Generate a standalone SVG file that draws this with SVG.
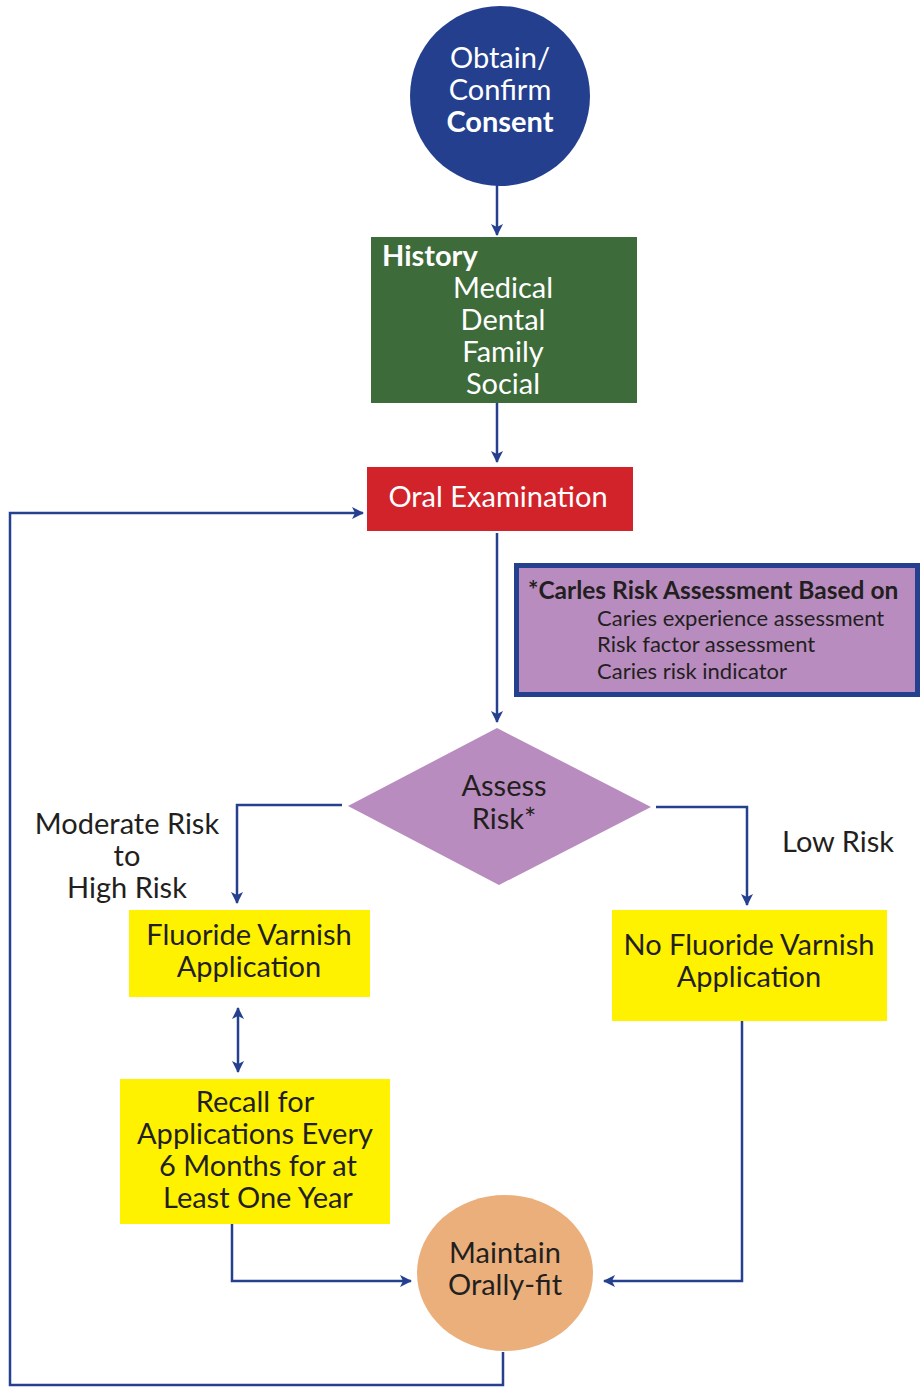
<svg xmlns="http://www.w3.org/2000/svg" width="924" height="1387" viewBox="0 0 924 1387">
<style>
text{font-family:"Lato","Open Sans","Liberation Sans",sans-serif;}
.w{fill:#ffffff;font-size:29px;text-anchor:middle;}
.d{fill:#231f20;font-size:29px;text-anchor:middle;}
.c{fill:none;stroke:#25408f;stroke-width:2.5;}
</style>
<defs>
<marker id="a" viewBox="0 0 12 12" refX="11" refY="6" markerWidth="12" markerHeight="12" orient="auto-start-reverse" markerUnits="userSpaceOnUse">
<path d="M0,0 L12,6 L0,12 L3,6 z" fill="#25408f"/>
</marker>
</defs>
<rect width="924" height="1387" fill="#ffffff"/>
<g id="connectors">
<path class="c" d="M497,182 V235" marker-end="url(#a)"/>
<path class="c" d="M497,403 V462" marker-end="url(#a)"/>
<path class="c" d="M497,533 V722" marker-end="url(#a)"/>
<path class="c" d="M342,805 H237 V903" marker-end="url(#a)"/>
<path class="c" d="M656,807 H747 V905" marker-end="url(#a)"/>
<path class="c" d="M238,1008 V1072" marker-start="url(#a)" marker-end="url(#a)"/>
<path class="c" d="M232,1224 V1281 H411" marker-end="url(#a)"/>
<path class="c" d="M742,1021 V1281 H604" marker-end="url(#a)"/>
<path class="c" d="M503,1352 V1385 H10 V513 H363" marker-end="url(#a)"/>
</g>
<g id="consent">
<circle cx="500" cy="96" r="90" fill="#253f8f"/>
<text class="w" x="500" y="68">Obtain/</text>
<text class="w" x="500" y="100">Confirm</text>
<text class="w" x="500" y="132" font-weight="bold">Consent</text>
</g>
<g id="history">
<rect x="371" y="237" width="266" height="166" fill="#3e6b3a"/>
<text class="w" x="382" y="266" style="text-anchor:start" font-weight="bold">History</text>
<text class="w" x="503" y="298">Medical</text>
<text class="w" x="503" y="330">Dental</text>
<text class="w" x="503" y="362">Family</text>
<text class="w" x="503" y="394">Social</text>
</g>
<g id="oral-exam">
<rect x="367" y="467" width="266" height="64" fill="#d2232a"/>
<text class="w" x="498" y="507">Oral Examination</text>
</g>
<g id="caries-note">
<rect x="516.5" y="565.5" width="401" height="129" fill="#b98cc0" stroke="#25408f" stroke-width="5"/>
<text x="528" y="599" fill="#231f20" font-size="24.5" font-weight="bold">*Carles Risk Assessment Based on</text>
<text x="597" y="626" fill="#231f20" font-size="22">Caries experience assessment</text>
<text x="597" y="652" fill="#231f20" font-size="22">Risk factor assessment</text>
<text x="597" y="679" fill="#231f20" font-size="22">Caries risk indicator</text>
</g>
<g id="assess-risk">
<polygon points="497,728 651,807 499,885 348,806" fill="#b98cbf"/>
<text class="d" x="504" y="796">Assess</text>
<text class="d" x="504" y="829">Risk*</text>
</g>
<g id="label-moderate">
<text class="d" x="127" y="834">Moderate Risk</text>
<text class="d" x="127" y="866">to</text>
<text class="d" x="127" y="898">High Risk</text>
</g>
<g id="label-low">
<text class="d" x="838" y="852">Low Risk</text>
</g>
<g id="fluoride">
<rect x="129" y="910" width="241" height="87" fill="#fff200"/>
<text class="d" x="249" y="945">Fluoride Varnish</text>
<text class="d" x="249" y="977">Application</text>
</g>
<g id="no-fluoride">
<rect x="612" y="910" width="275" height="111" fill="#fff200"/>
<text class="d" x="749" y="955">No Fluoride Varnish</text>
<text class="d" x="749" y="987">Application</text>
</g>
<g id="recall">
<rect x="120" y="1079" width="270" height="145" fill="#fff200"/>
<text class="d" x="255" y="1112">Recall for</text>
<text class="d" x="255" y="1144">Applications Every</text>
<text class="d" x="258" y="1176">6 Months for at</text>
<text class="d" x="258" y="1208">Least One Year</text>
</g>
<g id="maintain">
<ellipse cx="505" cy="1273" rx="88" ry="78" fill="#ebaf7c"/>
<text class="d" x="505" y="1263">Maintain</text>
<text class="d" x="505" y="1295">Orally-fit</text>
</g>
</svg>
